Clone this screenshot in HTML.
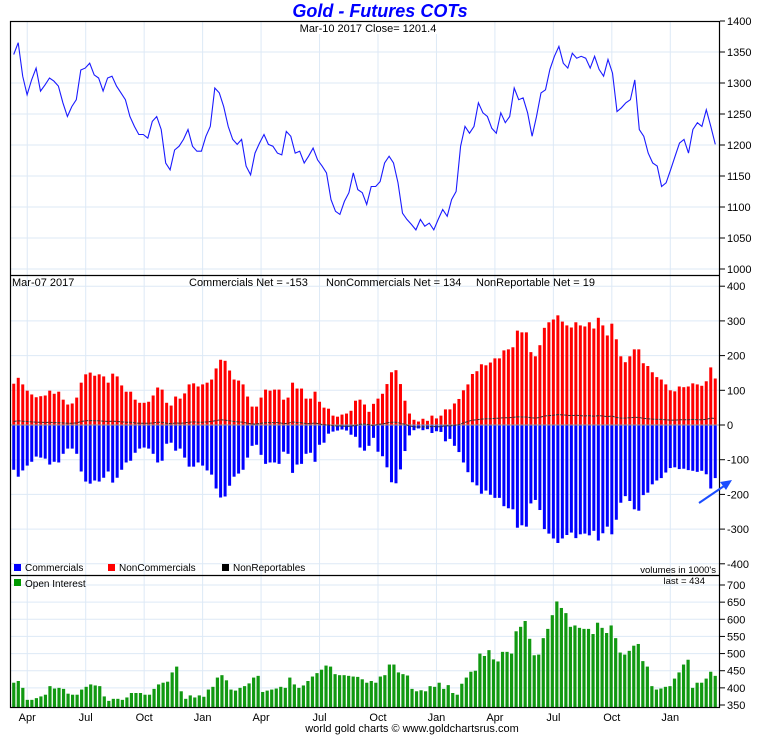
<!DOCTYPE html>
<html><head><meta charset="utf-8"><style>
body{margin:0;background:#fff;}
svg text{font-family:"Liberation Sans",sans-serif;}
</style></head><body>
<svg id="c" width="760" height="735" xmlns="http://www.w3.org/2000/svg">
<rect width="760" height="735" fill="#fff"/>
<text x="380" y="17" text-anchor="middle" font-size="18" font-weight="bold" font-style="italic" fill="#0000ff">Gold - Futures COTs</text>
<g id="grid"></g>
<g id="marks"></g>
<rect x="300" y="22" width="140" height="12" fill="#fff"/>
<text x="368" y="32" text-anchor="middle" font-size="11">Mar-10  2017   Close= 1201.4</text>
<g id="frames" fill="none" stroke="#000" stroke-width="1.2">
<rect x="10.5" y="21.5" width="709" height="686"/>
<line x1="10" y1="275.5" x2="720" y2="275.5"/>
<line x1="10" y1="575.5" x2="720" y2="575.5"/>
</g>
<text x="12" y="286" font-size="11">Mar-07  2017</text>
<text x="189" y="286" font-size="11">Commercials Net = -153</text>
<text x="326" y="286" font-size="11">NonCommercials Net = 134</text>
<text x="476" y="286" font-size="11">NonReportable Net = 19</text>
<g font-size="10">
<rect x="14" y="564" width="7" height="7" fill="#0000ff"/>
<text x="25" y="571">Commercials</text>
<rect x="108" y="564" width="7" height="7" fill="#ff0000"/>
<text x="119" y="571">NonCommercials</text>
<rect x="222" y="564" width="7" height="7" fill="#000"/>
<text x="233" y="571">NonReportables</text>
</g>
<text x="716" y="573" text-anchor="end" font-size="9.5">volumes in 1000's</text>
<rect x="14" y="579" width="7" height="7" fill="#009900"/>
<text x="25" y="587" font-size="10">Open Interest</text>
<text x="705" y="584" text-anchor="end" font-size="9.5">last = 434</text>
<line x1="699" y1="503" x2="727" y2="484" stroke="#1a4cff" stroke-width="2"/>
<polygon points="732,480 720,482 726,490" fill="#1a4cff"/>
<text x="412" y="732" text-anchor="middle" font-size="11">world gold charts © www.goldchartsrus.com</text>
<g id="axes" font-size="11"></g>
</svg>
<script>
const priceValues=[1346,1365,1311,1281,1305,1324,1287,1297,1308,1303,1295,1268,1246,1262,1273,1321,1324,1332,1313,1308,1287,1308,1311,1295,1284,1273,1246,1230,1217,1217,1211,1238,1246,1225,1171,1160,1192,1198,1209,1225,1198,1190,1190,1214,1230,1292,1284,1262,1230,1209,1201,1209,1166,1152,1187,1203,1217,1201,1198,1187,1184,1222,1214,1187,1190,1171,1182,1195,1176,1166,1155,1112,1093,1088,1109,1123,1155,1128,1123,1104,1133,1133,1141,1171,1182,1171,1139,1090,1080,1072,1063,1080,1069,1074,1063,1080,1096,1085,1112,1125,1198,1230,1219,1230,1268,1252,1246,1227,1219,1252,1236,1246,1292,1273,1276,1252,1214,1246,1284,1289,1322,1343,1359,1332,1324,1348,1340,1343,1340,1324,1343,1322,1311,1338,1316,1254,1260,1268,1273,1305,1225,1214,1187,1171,1166,1133,1139,1160,1182,1203,1209,1187,1225,1236,1230,1257,1230,1201];
const nonCommValues=[119,136,117,99,88,80,83,85,99,90,96,73,59,62,79,122,146,151,142,146,140,122,148,140,114,96,96,73,64,64,67,85,108,102,64,56,82,76,91,117,120,111,117,122,131,163,188,185,157,131,128,117,82,53,53,79,102,99,102,102,73,79,122,105,105,76,76,96,67,50,47,27,24,30,33,41,70,73,59,38,61,76,90,118,152,158,118,70,33,15,10,18,12,27,19,27,45,45,62,75,100,117,147,155,175,172,180,192,192,215,218,224,272,267,267,210,198,230,280,296,304,316,298,287,281,296,287,284,296,278,309,287,258,292,247,198,181,198,218,218,178,170,152,138,131,117,100,97,111,109,111,120,117,113,126,166,134];
const commValues=[-129,-149,-131,-117,-106,-91,-94,-97,-114,-106,-108,-83,-68,-68,-83,-134,-163,-169,-160,-163,-152,-134,-166,-152,-129,-108,-103,-80,-68,-65,-68,-83,-108,-103,-54,-51,-74,-68,-94,-120,-120,-108,-117,-131,-143,-183,-209,-206,-175,-149,-140,-129,-94,-60,-57,-86,-112,-108,-108,-112,-77,-83,-138,-114,-112,-83,-80,-106,-57,-51,-25,-19,-16,-13,-16,-28,-34,-65,-74,-60,-37,-77,-90,-122,-165,-168,-128,-75,-30,-15,-10,-15,-12,-23,-18,-20,-47,-40,-60,-78,-108,-136,-165,-174,-198,-189,-201,-210,-210,-234,-240,-243,-296,-289,-293,-226,-216,-245,-300,-313,-327,-340,-327,-317,-310,-326,-315,-313,-318,-305,-333,-312,-293,-315,-273,-224,-205,-219,-243,-247,-202,-195,-171,-160,-153,-137,-124,-122,-127,-126,-130,-132,-135,-132,-142,-183,-153];
const nonRepValues=[10,12,11,10,9,8,8,7,8,7,7,6,5,5,6,10,12,13,12,12,11,10,11,10,9,8,8,6,5,5,5,6,8,8,5,4,6,5,6,8,9,8,8,9,10,13,15,14,12,10,9,8,5,3,3,5,7,7,7,7,4,5,9,7,7,4,4,6,3,1,0,-2,-3,-3,-4,-3,-2,2,3,1,-2,2,3,6,8,8,5,2,-3,-5,-6,-5,-6,-4,-5,-5,-2,-3,-1,1,6,10,14,15,17,18,18,19,20,21,21,22,24,23,23,21,20,22,26,27,28,30,29,28,27,28,27,26,27,25,27,26,24,26,22,20,20,21,22,22,19,18,17,16,16,15,14,14,15,15,15,16,15,15,16,20,19];
const oiValues=[415,420,400,365,365,370,375,380,405,398,400,397,383,380,380,395,403,410,407,405,375,362,368,368,365,372,385,385,385,380,380,397,410,415,418,445,462,390,368,378,372,378,374,395,403,430,437,422,395,392,400,405,413,430,435,388,392,395,398,403,400,430,410,400,407,420,433,443,453,465,462,440,437,437,435,433,432,425,415,420,415,433,437,468,468,445,440,436,397,390,393,390,405,403,415,397,408,385,380,412,430,447,450,500,493,510,483,477,505,505,500,565,578,595,543,495,497,545,572,612,652,633,618,578,582,575,572,572,557,590,575,560,582,545,503,497,508,523,528,478,462,405,395,398,403,405,427,445,468,482,400,415,415,427,447,435];
const priceTicks=[1000,1050,1100,1150,1200,1250,1300,1350,1400];
const cotTicks=[-400,-300,-200,-100,0,100,200,300,400];
const oiTicks=[350,400,450,500,550,600,650,700];
const monthLabels=["Apr","Jul","Oct","Jan","Apr","Jul","Oct","Jan","Apr","Jul","Oct","Jan"];
const monthWeeks=[3,16,29,42,55,68,81,94,107,120,133,146];

const NS="http://www.w3.org/2000/svg";
const X0=11.5, X1=717.5;
function xAt(i,n){return X0+(i+0.5)*(X1-X0)/n;}
function yPrice(v){return 269-(v-1000)*248/400;}
function yCot(v){return 425-v*0.347;}
function yOi(v){return 705-(v-350)*120/350;}
function mk(tag,attrs,parent){const e=document.createElementNS(NS,tag);for(const k in attrs)e.setAttribute(k,attrs[k]);parent.appendChild(e);return e;}
const grid=document.getElementById('grid'),marks=document.getElementById('marks'),axes=document.getElementById('axes');
const N=commValues.length;
monthWeeks.forEach((w,i)=>{
  const x=xAt(w,N);
  const g=mk('line',{x1:x,x2:x,y1:22,y2:707,stroke:'#dde9f6','stroke-width':1},grid);
  
  
  const t=mk('text',{x:x,y:721,'text-anchor':'middle','font-size':11},axes);
  t.textContent=monthLabels[i];
  
  
});
function hTicks(ticks,yf,name,top,bot){
  ticks.forEach(v=>{
    const y=yf(v);
    if(y>top&&y<bot){const g=mk('line',{x1:11,x2:719,y1:y,y2:y,stroke:'#dde9f6','stroke-width':1},grid);
    
    }
    const tk=mk('line',{x1:720,x2:725,y1:y,y2:y,stroke:'#000'},axes);
    
    
    const t=mk('text',{x:727,y:y+4,'font-size':11},axes);
    t.textContent=v;
    
    
  });
}
hTicks(priceTicks,yPrice,'price',21,275);
hTicks(cotTicks,yCot,'cot',276,575);
hTicks(oiTicks,yOi,'oi',576,707);
let d='';priceValues.forEach((v,i)=>{d+=(i?'L':'M')+xAt(i,priceValues.length).toFixed(1)+','+yPrice(v).toFixed(1);});
const pl=mk('path',{d:d,fill:'none',stroke:'#1a1aff','stroke-width':1.1},marks);


const bw=3;
nonCommValues.forEach((v,i)=>{
  const x=xAt(i,N)-bw/2,y=yCot(v);
  const r=mk('rect',{x:x,y:Math.min(y,425),width:bw,height:Math.abs(425-y),fill:'#ff0000'},marks);
  
  
});
commValues.forEach((v,i)=>{
  const x=xAt(i,N)-bw/2,y=yCot(v);
  const r=mk('rect',{x:x,y:Math.min(y,425),width:bw,height:Math.abs(425-y),fill:'#0000ff'},marks);
  
  
});
const zl=mk('line',{x1:11,x2:719,y1:425,y2:425,stroke:'#999','stroke-width':1},marks);


let d2='';nonRepValues.forEach((v,i)=>{d2+=(i?'L':'M')+xAt(i,N).toFixed(1)+','+yCot(v).toFixed(1);});
const nl=mk('path',{d:d2,fill:'none',stroke:'#333','stroke-width':1,'stroke-dasharray':'3,1'},marks);


const M=oiValues.length;
oiValues.forEach((v,i)=>{
  const x=xAt(i,M)-1.6,y=yOi(v);
  const r=mk('rect',{x:x,y:y,width:3.2,height:707-y,fill:'#119911'},marks);
  
  
});
</script>
</body></html>
